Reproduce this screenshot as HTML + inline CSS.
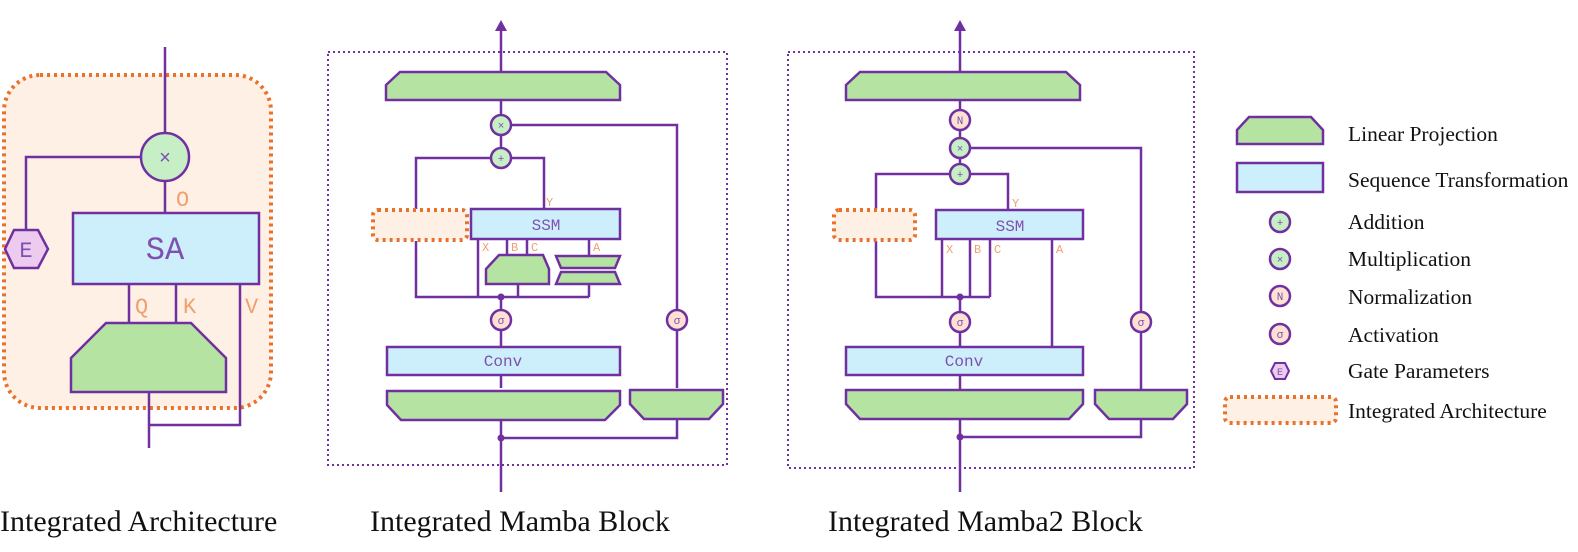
<!DOCTYPE html>
<html><head><meta charset="utf-8"><style>
html,body{margin:0;padding:0;background:#fff;}
svg{display:block;}
.p{stroke:#7030a0;stroke-width:2.5;fill:none;}
.g{fill:#b5e4a2;stroke:#7030a0;stroke-width:2.5;}
.b{fill:#cdeefb;stroke:#7030a0;stroke-width:2.5;}
.cg{fill:#c6efc6;stroke:#7030a0;stroke-width:2.5;}
.co{fill:#fde2d4;stroke:#7030a0;stroke-width:2.5;}
.ob{fill:#fff0e5;stroke:#e8722c;stroke-width:4;stroke-dasharray:3 4;}
.m{font-family:"Liberation Mono",monospace;fill:#8050b0;text-anchor:middle;}
.l{font-family:"Liberation Mono",monospace;fill:#f0a070;}
.s{font-family:"Liberation Serif",serif;fill:#111;}
</style></head><body>
<svg width="1578" height="552" viewBox="0 0 1578 552" xmlns="http://www.w3.org/2000/svg">
<!-- Panel 1 -->
<rect x="4" y="75" width="267" height="333" rx="36" class="ob"/>
<path class="p" d="M165 47V133M141 157H26V230M165 181V213M129 284V323M176 284V323M240 284V425H149M149 392V448"/>
<circle cx="165" cy="157" r="24" class="cg"/>
<text x="165" y="164" class="m" font-size="20">×</text>
<text x="176" y="206" class="l" font-size="22">O</text>
<polygon points="5,249 14,230 38,230 48,249 38,268 14,268" fill="#eccbef" stroke="#7030a0" stroke-width="2.5"/>
<text x="26" y="257" class="m" font-size="22">E</text>
<rect x="73" y="213" width="186" height="71" class="b"/>
<text x="165" y="259" class="m" font-size="32">SA</text>
<text x="135" y="313" class="l" font-size="22">Q</text>
<text x="183" y="313" class="l" font-size="22">K</text>
<text x="245" y="313" class="l" font-size="22">V</text>
<polygon points="106,323 191,323 226,358 226,392 71,392 71,358" class="g"/>

<!-- Panel 2 -->
<rect x="328" y="52" width="399" height="413" fill="none" stroke="#7030a0" stroke-width="2" stroke-dasharray="2 3"/>
<path class="p" d="M501 30V72M501 100V115M511 125H677V310M677 330V388M501 135V148M491 158H416V209M511 158H544V209M416 241V297H589M478 239V297M507 239V255M527 239V255M518 284V297M589 239V256M589 284V297M501 297V310M501 330V347M501 375V388M501 417V492M501 438H677V417"/>
<polygon points="501,20 495,31 507,31" fill="#7030a0"/>
<polygon points="400,72 606,72 620,85 620,100 386,100 386,85" class="g"/>
<circle cx="501" cy="125" r="10" class="cg"/><text x="501" y="129" class="m" font-size="11">×</text>
<circle cx="501" cy="158" r="10" class="cg"/><text x="501" y="162" class="m" font-size="11">+</text>
<rect x="373" y="210" width="94" height="30" rx="5" class="ob"/>
<rect x="471" y="209" width="149" height="30" class="b"/>
<text x="546" y="230" class="m" font-size="16">SSM</text>
<text x="546" y="206" class="l" font-size="12">Y</text>
<text x="482" y="251" class="l" font-size="12">X</text>
<text x="511" y="251" class="l" font-size="12">B</text>
<text x="531" y="251" class="l" font-size="12">C</text>
<text x="593" y="251" class="l" font-size="12">A</text>
<polygon points="499,255 543,255 549,269 549,284 486,284 486,269" class="g"/>
<polygon points="556,256 620,256 615,268 561,268" class="g"/>
<polygon points="561,272 615,272 620,284 556,284" class="g"/>
<circle cx="501" cy="297" r="3.5" fill="#7030a0"/>
<circle cx="501" cy="438" r="3.5" fill="#7030a0"/>
<circle cx="501" cy="320" r="10" class="co"/><text x="501" y="324" class="m" font-size="11">σ</text>
<circle cx="677" cy="320" r="10" class="co"/><text x="677" y="324" class="m" font-size="11">σ</text>
<rect x="387" y="347" width="233" height="28" class="b"/>
<text x="503" y="366" class="m" font-size="16">Conv</text>
<polygon points="387,391 620,391 620,405 605,420 401,420 387,405" class="g"/>
<polygon points="630,390 723,390 723,404 709,419 644,419 630,404" class="g"/>

<!-- Panel 3 -->
<rect x="788" y="52" width="406" height="416" fill="none" stroke="#7030a0" stroke-width="2" stroke-dasharray="2 3"/>
<path class="p" d="M960 30V72M960 100V110M960 130V138M970 148H1141V312M1141 332V390M960 158V164M950 174H876V209M970 174H1008V209M876 241V297H990M942 239V297M970 239V297M990 239V297M1052 239V347M960 297V312M960 332V347M960 375V390M960 419V492M960 437H1141V419"/>
<polygon points="960,20 954,31 966,31" fill="#7030a0"/>
<polygon points="860,72 1066,72 1080,85 1080,100 846,100 846,85" class="g"/>
<circle cx="960" cy="120" r="10" class="co"/><text x="960" y="124" class="m" font-size="11">N</text>
<circle cx="960" cy="148" r="10" class="cg"/><text x="960" y="152" class="m" font-size="11">×</text>
<circle cx="960" cy="174" r="10" class="cg"/><text x="960" y="178" class="m" font-size="11">+</text>
<rect x="834" y="210" width="81" height="30" rx="5" class="ob"/>
<rect x="936" y="210" width="147" height="29" class="b"/>
<text x="1010" y="231" class="m" font-size="16">SSM</text>
<text x="1012" y="207" class="l" font-size="12">Y</text>
<text x="946" y="253" class="l" font-size="12">X</text>
<text x="974" y="253" class="l" font-size="12">B</text>
<text x="994" y="253" class="l" font-size="12">C</text>
<text x="1056" y="253" class="l" font-size="12">A</text>
<circle cx="960" cy="297" r="3.5" fill="#7030a0"/>
<circle cx="960" cy="437" r="3.5" fill="#7030a0"/>
<circle cx="960" cy="322" r="10" class="co"/><text x="960" y="326" class="m" font-size="11">σ</text>
<circle cx="1141" cy="322" r="10" class="co"/><text x="1141" y="326" class="m" font-size="11">σ</text>
<rect x="846" y="347" width="237" height="28" class="b"/>
<text x="964" y="366" class="m" font-size="16">Conv</text>
<polygon points="846,390 1083,390 1083,404 1069,419 860,419 846,404" class="g"/>
<polygon points="1095,390 1187,390 1187,404 1173,419 1109,419 1095,404" class="g"/>

<!-- Legend -->
<polygon points="1249,117 1311,117 1323,130 1323,144 1237,144 1237,130" class="g"/>
<rect x="1237" y="163" width="86" height="29" class="b"/>
<circle cx="1280" cy="222" r="10" class="cg"/><text x="1280" y="226" class="m" font-size="11">+</text>
<circle cx="1280" cy="259" r="10" class="cg"/><text x="1280" y="263" class="m" font-size="11">×</text>
<circle cx="1280" cy="296" r="10" class="co"/><text x="1280" y="300" class="m" font-size="11">N</text>
<circle cx="1280" cy="334" r="10" class="co"/><text x="1280" y="338" class="m" font-size="11">σ</text>
<polygon points="1271,371 1275,363 1285,363 1289,371 1285,379 1275,379" fill="#eccbef" stroke="#7030a0" stroke-width="2"/>
<text x="1280" y="375" class="m" font-size="10">E</text>
<rect x="1225" y="397" width="111" height="26" rx="5" class="ob"/>
<g class="s" font-size="21.5">
<text x="1348" y="141">Linear Projection</text>
<text x="1348" y="187">Sequence Transformation</text>
<text x="1348" y="229">Addition</text>
<text x="1348" y="266">Multiplication</text>
<text x="1348" y="304">Normalization</text>
<text x="1348" y="342">Activation</text>
<text x="1348" y="378">Gate Parameters</text>
<text x="1348" y="418">Integrated Architecture</text>
</g>
<g class="s" font-size="30">
<text x="0" y="531">Integrated Architecture</text>
<text x="370" y="531">Integrated Mamba Block</text>
<text x="828" y="531">Integrated Mamba2 Block</text>
</g>
</svg>
</body></html>
